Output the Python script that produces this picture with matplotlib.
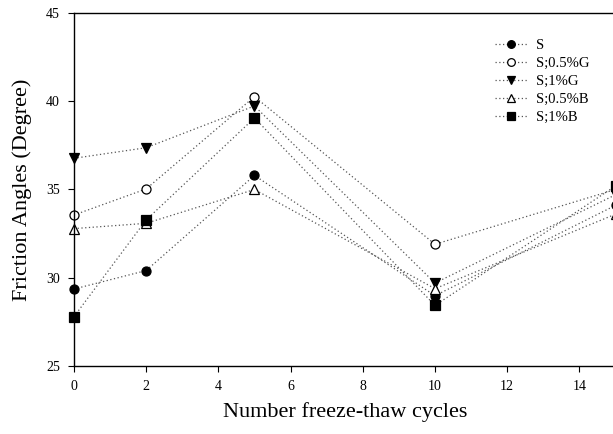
import matplotlib
matplotlib.use("Agg")
import matplotlib.pyplot as plt

plt.rcParams['font.family'] = ['Liberation Serif', 'DejaVu Serif']

# cycles
cycles = [0, 2, 5, 10, 15]

# friction angles (degree)
s_plain = [29.35, 30.4, 35.8, 28.97, 34.1]
s_g05 = [33.55, 35.03, 40.27, 31.89, 35.0]
s_g1 = [36.77, 37.37, 39.74, 29.69, 34.7]
s_b05 = [32.78, 33.08, 35.0, 29.37, 33.6]
s_b1 = [27.78, 33.27, 39.06, 28.42, 35.2]

labels = ["S", "S;0.5%G", "S;1%G", "S;0.5%B", "S;1%B"]
series = [s_plain, s_g05, s_g1, s_b05, s_b1]
markers = ['o', 'o', 'v', '^', 's']
faces = ['black', 'white', 'black', 'white', 'black']

xticks = [0, 2, 4, 6, 8, 10, 12, 14]
yticks = [25, 30, 35, 40, 45]

fig = plt.figure(figsize=(6.13, 4.34), dpi=100)
# right spine sits just past the image edge, like the original crop
ax = fig.add_axes([0.1206, 0.1574, 0.8835, 0.812])

for vals, lab, m, fc in zip(series, labels, markers, faces):
    ax.plot(cycles, vals, linestyle=(0, (1, 2)), color='#555555', linewidth=0.9,
            marker=m, markersize=6.5, markerfacecolor=fc, markeredgecolor='black',
            markeredgewidth=0.9, label=lab, clip_on=False)

ax.set_xlim(0, 15)
ax.set_ylim(25, 45)
ax.set_xticks(xticks)
ax.set_yticks(yticks)
ax.tick_params(direction='out', length=4, width=0.8, labelsize=10, pad=6)
ax.spines['right'].set_visible(False)
for sp in ['left', 'bottom', 'top']:
    ax.spines[sp].set_linewidth(1.0)

ax.set_xlabel("Number freeze-thaw cycles", fontsize=16, labelpad=7)
ax.set_ylabel("Friction Angles (Degree)", fontsize=16, labelpad=10)

leg = ax.legend(loc='upper left', bbox_to_anchor=(482 / 613, 1 - 26 / 434),
                bbox_transform=fig.transFigure, frameon=False, fontsize=10.5,
                handlelength=2.2, handletextpad=0.6, labelspacing=0.33,
                markerscale=0.85)

fig.savefig("out.png", dpi=100)
